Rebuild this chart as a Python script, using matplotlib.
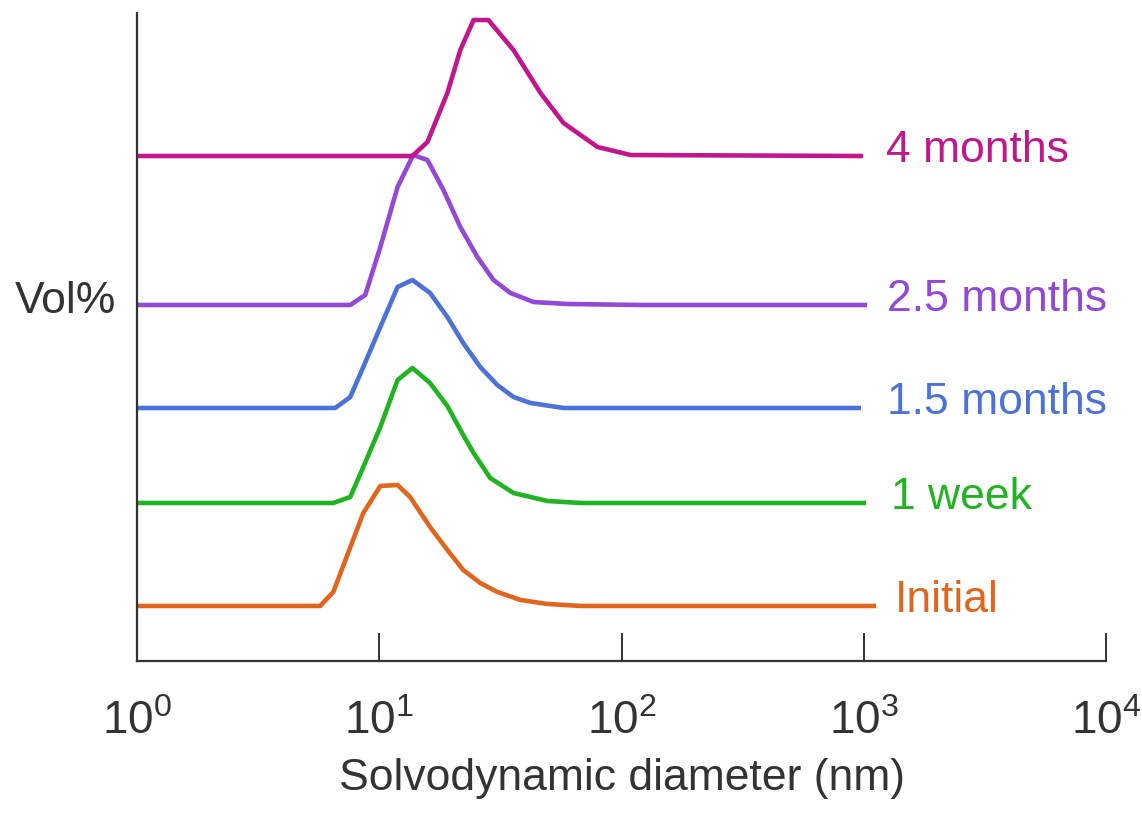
import numpy as np
import matplotlib
matplotlib.use("Agg")
import matplotlib.pyplot as plt
import matplotlib.ticker as plticker

plt.rcParams['font.family'] = ['Liberation Sans', 'DejaVu Sans']
plt.rcParams['mathtext.default'] = 'regular'

#Data (diameter in nm, Vol% in arbitrary units above each baseline)
labels = ["Initial", "1 week", "1.5 months", "2.5 months", "4 months"]
colors = ["#E2651E", "#20B420", "#4C72DA", "#9348D8", "#C2168C"]
offsets = [55, 158, 253, 356, 505]

d_initial = [1, 5.7, 6.46, 8.59, 10.1, 11.9, 13.4, 16.2, 19.1, 22.2, 26.1, 30.7, 38.3, 49.4, 67.7, 1100]
v_initial = [0, 0, 14, 93, 120, 121, 109, 79, 56, 36, 23, 14, 6, 2, 0, 0]

d_1week = [1, 6.46, 7.59, 8.59, 10.1, 11.9, 13.7, 16.2, 19.1, 22.2, 24.5, 28.7, 35.8, 49.4, 67.7, 1000]
v_1week = [0, 0, 6, 36, 76, 123, 135, 120, 97, 68, 50, 25, 10, 2, 0, 0]

d_15months = [1, 6.58, 7.59, 8.59, 10.1, 11.9, 13.7, 16.2, 19.1, 22.2, 26.1, 30.7, 35.8, 42.1, 57.6, 953]
v_15months = [0, 0, 11, 41, 81, 121, 128, 115, 91, 65, 41, 23, 11, 5, 0, 0]

d_25months = [1, 7.59, 8.75, 10.1, 11.9, 13.8, 15.8, 18.4, 21.6, 25.4, 29.6, 34.8, 43.3, 59.8, 120, 1010]
v_25months = [0, 0, 10, 58, 118, 150, 145, 115, 78, 48, 25, 12, 3, 1, 0, 0]

d_4months = [1, 13.7, 15.8, 19.1, 21.6, 24.5, 28.2, 35.8, 46.3, 57.6, 79.6, 109, 972]
v_4months = [0, 0, 14, 63, 106, 136, 136, 106, 63, 33, 9, 1, 0]

label_x = [1350, 1300, 1250, 1250, 1230]

diam = [d_initial, d_1week, d_15months, d_25months, d_4months]
vol = [v_initial, v_1week, v_15months, v_25months, v_4months]

fig = plt.figure(figsize=(11.42, 8.13), dpi=100)
ax = fig.add_axes([0.12, 0.187, 0.8485, 0.797])

for d, v, off, c, lab, lx in zip(diam, vol, offsets, colors, labels, label_x):
    ax.plot(d, np.array(v) + off, color=c, lw=3.3, solid_joinstyle='round')
    ax.text(lx, off + 5, lab, color=c, fontsize=32, ha='left', va='center')

ax.set_xscale('log')
ax.set_xlim(1, 1e4)
ax.set_ylim(0, 648)

ax.spines['top'].set_visible(False)
ax.spines['right'].set_visible(False)
ax.spines['left'].set_color('#333333')
ax.spines['bottom'].set_color('#333333')
ax.spines['left'].set_linewidth(1.6)
ax.spines['bottom'].set_linewidth(1.6)

ax.xaxis.set_major_locator(plticker.FixedLocator([1, 10, 100, 1000, 10000]))
ax.xaxis.set_minor_locator(plticker.NullLocator())
ax.xaxis.set_major_formatter(plticker.FixedFormatter(['$10^{0}$', '$10^{1}$', '$10^{2}$', '$10^{3}$', '$10^{4}$']))
ax.tick_params(axis='x', direction='in', length=20, width=1.4, color='#333333',
               labelsize=33, labelcolor='#333333', pad=28)
ax.set_yticks([])

ax.set_xlabel('Solvodynamic diameter (nm)', fontsize=32, color='#333333', labelpad=10)
ax.set_ylabel('Vol%', fontsize=32, color='#333333', rotation=0, ha='right', va='center')
ax.yaxis.set_label_coords(-0.022, 0.554)

fig.savefig('out.png', dpi=100)
